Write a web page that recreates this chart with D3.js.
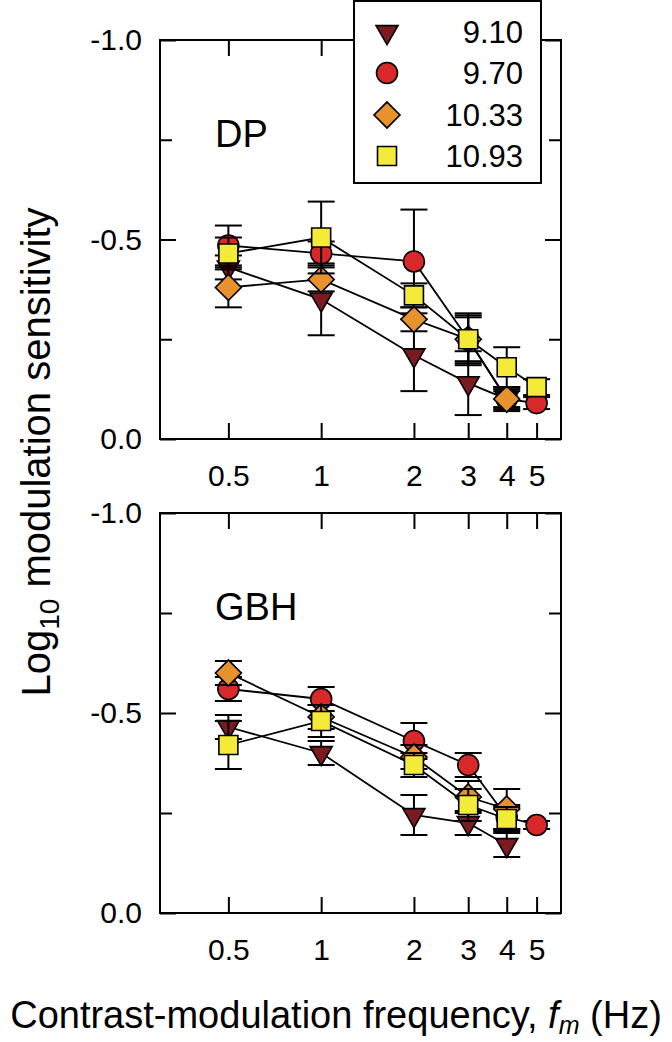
<!DOCTYPE html>
<html>
<head>
<meta charset="utf-8">
<script src="https://cdn.jsdelivr.net/npm/d3@7"></script>
<style>
  body { margin: 0; background: #fff; }
  svg { display: block; font-family: "Liberation Sans", Arial, sans-serif; }
</style>
</head>
<body>
<svg id="chart" width="672" height="1042"></svg>
<script>
// frequencies (Hz) on log axis
var freqs = [0.5, 1, 2, 3, 4, 5];
var xTicks = [0.5, 1, 2, 3, 4, 5];
var yMajor = [0, -0.5, -1.0];
var yMinor = [-0.25, -0.75];

var legendLabels = ["9.10", "9.70", "10.33", "10.93"];

// DP panel
var dpTri = [-0.43, -0.35, -0.21, -0.14, -0.10, null];
var dpTriErr = [0.03, 0.09, 0.09, 0.08, 0.03, null];
var dpCirc = [-0.485, -0.465, -0.445, -0.25, -0.10, -0.09];
var dpCircErr = [0.05, 0.03, 0.13, 0.065, 0.02, 0.015];
var dpDia = [-0.38, -0.40, -0.30, -0.25, -0.10, null];
var dpDiaErr = [0.05, 0.03, 0.03, 0.06, 0.025, null];
var dpSq = [-0.465, -0.505, -0.36, -0.25, -0.18, -0.13];
var dpSqErr = [0.04, 0.09, 0.03, 0.055, 0.05, 0.02];

// GBH panel
var gbTri = [-0.465, -0.40, -0.245, -0.225, -0.17, null];
var gbTriErr = [0.03, 0.03, 0.05, 0.03, 0.03, null];
var gbCirc = [-0.56, -0.535, -0.43, -0.37, -0.24, -0.22];
var gbCircErr = [0.03, 0.03, 0.045, 0.03, 0.03, 0.01];
var gbDia = [-0.60, -0.49, -0.39, -0.29, -0.26, null];
var gbDiaErr = [0.03, 0.03, 0.03, 0.04, 0.05, null];
var gbSq = [-0.42, -0.48, -0.37, -0.27, -0.235, null];
var gbSqErr = [0.06, 0.04, 0.03, 0.04, 0.03, null];

var styles = [
  { type: d3.symbolTriangle, size: 210, rot: 180, fill: "#7b1b1f" },
  { type: d3.symbolCircle, size: 346, rot: 0, fill: "#d8282a" },
  { type: d3.symbolSquare, size: 338, rot: 45, fill: "#e8922e" },
  { type: d3.symbolSquare, size: 361, rot: 0, fill: "#f4ea3a" }
];

var svg = d3.select("#chart");
var left = 160, right = 561;

var x = d3.scaleLog().domain([0.3, 6]).range([left, right]);

function fmt(v) { return v === 0 ? "0.0" : v.toFixed(1); }

function drawPanel(top, bottom, series, errs, label) {
  var y = d3.scaleLinear().domain([0, -1]).range([bottom, top]);
  var g = svg.append("g");

  // axes, ticks pointing inward
  g.append("g").attr("transform", "translate(" + left + ",0)")
    .call(d3.axisLeft(y).tickValues(yMajor).tickFormat(fmt).tickSizeInner(-16).tickSizeOuter(0).tickPadding(18));
  g.append("g").attr("transform", "translate(" + left + ",0)")
    .call(d3.axisLeft(y).tickValues(yMinor).tickFormat("").tickSizeInner(-12).tickSizeOuter(0));
  g.append("g").attr("transform", "translate(" + right + ",0)")
    .call(d3.axisRight(y).tickValues(yMajor).tickFormat("").tickSizeInner(-16).tickSizeOuter(0));
  g.append("g").attr("transform", "translate(" + right + ",0)")
    .call(d3.axisRight(y).tickValues(yMinor).tickFormat("").tickSizeInner(-12).tickSizeOuter(0));
  g.append("g").attr("transform", "translate(0," + bottom + ")")
    .call(d3.axisBottom(x).tickValues(xTicks).tickFormat(function(d) { return d; }).tickSizeInner(-16).tickSizeOuter(0).tickPadding(26));
  g.append("g").attr("transform", "translate(0," + top + ")")
    .call(d3.axisTop(x).tickValues(xTicks).tickFormat("").tickSizeInner(-16).tickSizeOuter(0));

  g.selectAll(".domain").remove();
  g.selectAll(".tick line").attr("stroke", "#000").attr("stroke-width", 2);
  g.selectAll(".tick text").attr("font-size", 30).attr("fill", "#000")
    .attr("font-family", "Liberation Sans, Arial, sans-serif");

  g.append("rect").attr("x", left).attr("y", top)
    .attr("width", right - left).attr("height", bottom - top)
    .attr("fill", "none").attr("stroke", "#000").attr("stroke-width", 2);

  g.append("text").attr("x", 215).attr("y", top + 107)
    .attr("font-size", 38).text(label);

  var line = d3.line()
    .defined(function(d) { return d.v != null; })
    .x(function(d) { return x(d.f); })
    .y(function(d) { return y(d.v); });

  series.forEach(function(vals, i) {
    var pts = freqs.map(function(f, j) { return { f: f, v: vals[j], e: errs[i][j] }; })
      .filter(function(d) { return d.v != null; });
    var s = g.append("g");

    s.append("path").datum(pts).attr("d", line)
      .attr("fill", "none").attr("stroke", "#000").attr("stroke-width", 1.8);

    var eb = s.selectAll(".eb").data(pts).enter().append("g");
    eb.append("line")
      .attr("x1", function(d) { return x(d.f); }).attr("x2", function(d) { return x(d.f); })
      .attr("y1", function(d) { return y(d.v - d.e); }).attr("y2", function(d) { return y(d.v + d.e); });
    eb.append("line")
      .attr("x1", function(d) { return x(d.f) - 13.5; }).attr("x2", function(d) { return x(d.f) + 13.5; })
      .attr("y1", function(d) { return y(d.v - d.e); }).attr("y2", function(d) { return y(d.v - d.e); });
    eb.append("line")
      .attr("x1", function(d) { return x(d.f) - 13.5; }).attr("x2", function(d) { return x(d.f) + 13.5; })
      .attr("y1", function(d) { return y(d.v + d.e); }).attr("y2", function(d) { return y(d.v + d.e); });
    eb.selectAll("line").attr("stroke", "#000").attr("stroke-width", 2);

    var st = styles[i];
    s.selectAll(".mk").data(pts).enter().append("path")
      .attr("d", d3.symbol().type(st.type).size(st.size))
      .attr("transform", function(d) { return "translate(" + x(d.f) + "," + y(d.v) + ") rotate(" + st.rot + ")"; })
      .attr("fill", st.fill).attr("stroke", "#000").attr("stroke-width", 1.6);
  });
}

drawPanel(40, 439, [dpTri, dpCirc, dpDia, dpSq], [dpTriErr, dpCircErr, dpDiaErr, dpSqErr], "DP");
drawPanel(513, 913, [gbTri, gbCirc, gbDia, gbSq], [gbTriErr, gbCircErr, gbDiaErr, gbSqErr], "GBH");

// legend
var lg = svg.append("g");
lg.append("rect").attr("x", 354).attr("y", 1).attr("width", 187).attr("height", 182)
  .attr("fill", "#fff").attr("stroke", "#000").attr("stroke-width", 2);
var rowY = [32, 73, 115, 156];
legendLabels.forEach(function(t, i) {
  var st = styles[i];
  lg.append("path")
    .attr("d", d3.symbol().type(st.type).size(st.size)())
    .attr("transform", "translate(387," + rowY[i] + ") rotate(" + st.rot + ")")
    .attr("fill", st.fill).attr("stroke", "#000").attr("stroke-width", 1.6);
  lg.append("text").attr("x", 523).attr("y", rowY[i]).attr("dy", "0.36em")
    .attr("text-anchor", "end").attr("font-size", 31).text(t);
});

// axis titles
var yl = svg.append("text").attr("transform", "translate(50,452) rotate(-90)")
  .attr("text-anchor", "middle").attr("font-size", 40);
yl.append("tspan").text("Log");
yl.append("tspan").attr("font-size", 28).attr("dy", 9).text("10");
yl.append("tspan").attr("dy", -9).text(" modulation sensitivity");

var xl = svg.append("text").attr("x", 336).attr("y", 1028)
  .attr("text-anchor", "middle").attr("font-size", 38);
xl.append("tspan").text("Contrast-modulation frequency, ");
xl.append("tspan").attr("font-style", "italic").text("f");
xl.append("tspan").attr("font-size", 25).attr("font-style", "italic").attr("dy", 6).text("m");
xl.append("tspan").attr("dy", -6).text(" (Hz)");
</script>
</body>
</html>
